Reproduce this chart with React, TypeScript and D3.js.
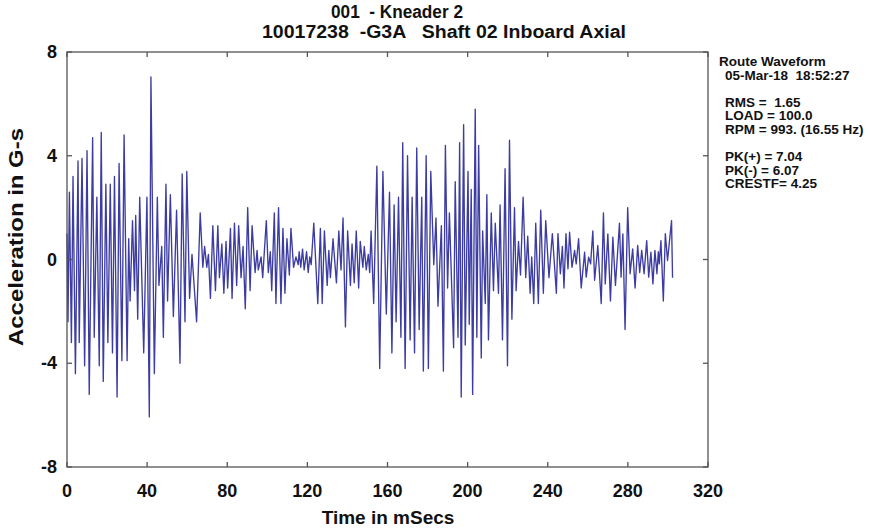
import React from "react";
import * as d3 from "d3";

const titleLines = ["001  - Kneader 2", "10017238  -G3A   Shaft 02 Inboard Axial"];
const xTicks = [0, 40, 80, 120, 160, 200, 240, 280, 320];
const yTicks = [8, 4, 0, -4, -8];
const xTitle = "Time in mSecs";
const yTitle = "Acceleration in G-s";
const infoLines = [
  { text: "Route Waveform", indent: false },
  { text: "05-Mar-18  18:52:27", indent: true },
  { text: "", indent: true },
  { text: "RMS =  1.65", indent: true },
  { text: "LOAD = 100.0", indent: true },
  { text: "RPM = 993. (16.55 Hz)", indent: true },
  { text: "", indent: true },
  { text: "PK(+) = 7.04", indent: true },
  { text: "PK(-) = 6.07", indent: true },
  { text: "CRESTF= 4.25", indent: true },
];

// [time in ms, acceleration in G-s]
const waveform: [number, number][] = [
  [0, 1.0], [0.5, -2.4], [1.2, 2.6], [2.2, -3.2], [3.0, 3.2], [4.2, -4.4], [5.5, 3.8], [6.1, -3.2],
  [7.5, 3.9], [8.8, -4.1], [10.0, 4.2], [11.1, -5.2], [12.8, 4.7], [13.6, -3.0], [14.9, 2.4], [16.1, -4.1],
  [17.1, 4.9], [18.1, -4.7], [19.4, 2.9], [20.4, -3.2], [21.6, 2.9], [22.7, -3.6], [23.7, 3.2], [25.0, -5.3],
  [26.0, 3.7], [27.4, -3.9], [28.5, 4.8], [30.0, -3.9], [30.8, 0.8], [31.5, -1.6], [32.7, 1.5], [33.7, -1.2],
  [34.3, 1.7], [35.3, -2.3], [36.3, 2.4], [38.3, -3.6], [39.9, 2.4], [41.1, -6.07], [41.9, 7.04], [43.6, -4.4],
  [45.1, 2.4], [45.9, -1.0], [47.3, 0.5], [48.1, -3.0], [49.4, 2.9], [50.2, -1.6], [51.6, 2.5], [53.1, -2.2],
  [54.7, 1.9], [56.4, -4.0], [57.5, 3.3], [58.9, -2.4], [59.8, 3.4],
  [61.2, -1.5], [62.4, 0.2], [64.7, -2.4], [66.5, 1.8], [67.8, -0.3], [68.7, 0.5], [69.8, -0.3], [70.6, 0.2],
  [71.6, -1.5], [72.8, 1.3], [74.1, -1.2], [75.3, 1.3], [76.1, -0.7], [77.3, 0.6], [78.3, -1.3], [79.4, 0.7],
  [80.2, -1.1], [81.6, 1.2], [82.4, -1.5], [83.6, 1.4], [84.7, -1.0], [85.7, 1.3], [86.9, -0.7], [87.9, 0.5],
  [89.0, -1.9], [90.2, 2.0], [91.4, -1.2], [92.4, 1.3], [93.9, -0.5], [94.9, 0.35], [95.5, -0.4], [96.9, 0.1],
  [97.7, -0.7], [99.5, 1.5], [100.5, -0.5], [101.5, 0.3], [102.2, -1.2], [103.5, 1.8], [104.3, -1.7], [105.6, 2.0],
  [106.8, -1.7], [107.8, 1.2], [108.8, -1.3], [109.8, 0.8], [111.0, -0.6], [111.8, 1.2], [113.1, -0.3], [114.3, 0.1],
  [115.4, -0.2], [115.9, 0.3], [116.7, -0.3], [117.6, 0.4], [118.4, -0.4], [119.6, 0.3],
  [120.4, -0.5], [121.2, 0.1], [121.9, -0.2], [123.2, 1.4], [125.2, -1.7], [126.5, 1.2], [127.4, -1.7], [128.5, 1.1],
  [129.9, -1.0], [130.7, 0.35], [131.5, -0.7], [132.8, 0.8], [134.5, -0.9], [135.7, 1.1], [136.8, -0.4], [137.8, 1.6],
  [139.0, -2.6], [140.1, 1.1], [141.5, -1.0], [142.3, 0.6], [143.4, -0.9], [144.4, 1.1], [145.6, -1.1], [146.4, 0.7],
  [147.7, -0.3], [148.4, 0.5], [149.4, -0.4], [150.4, 0.2], [151.1, -0.5], [151.8, 1.1], [153.1, -1.7], [154.7, 3.6],
  [156.1, -4.2], [157.7, 3.4], [159.4, -2.1], [161.0, 2.6], [162.2, -3.6], [163.3, 2.1], [164.3, -2.4], [165.5, 2.4],
  [166.7, -3.0], [167.6, 4.5], [168.8, -4.2], [170.0, 4.0], [171.3, -3.1], [172.3, 2.4], [173.5, -3.6], [174.6, 4.3],
  [175.8, -2.7], [177.1, 2.4], [177.9, -4.3], [179.3, 4.0], [180.4, -4.2], [181.6, 3.4],
  [183.1, -0.2], [184.2, 1.6], [185.2, -1.8], [186.9, 1.3], [187.9, -4.3], [188.9, 4.4], [190.0, -1.1], [190.9, 1.8],
  [193.0, -3.4], [193.8, 3.0], [195.2, -3.0], [196.0, 4.5], [196.8, -5.3], [198.0, 5.2], [198.8, -3.3], [200.2, 3.4],
  [200.8, -2.5], [201.8, 2.7], [202.5, -5.2], [203.8, 5.8], [204.6, -3.0], [205.5, 4.4], [206.8, -3.8], [207.5, 1.1],
  [208.8, -1.7], [209.6, 2.5], [210.4, -3.1], [211.8, 1.8], [212.9, -1.2], [213.8, 1.4], [215.4, -1.3], [216.2, 2.1],
  [217.4, -3.1], [218.7, 3.5], [219.9, -4.1], [220.9, 4.6], [222.1, -2.3], [223.4, 2.0], [224.2, -1.2], [225.4, 0.7],
  [226.4, -0.6], [227.7, 2.4], [229.0, -0.7], [230.0, 0.9], [231.2, -1.3], [232.0, 0.1], [233.0, -1.7], [234.0, 1.4],
  [235.3, -1.7], [236.5, 1.9], [237.8, -1.3], [239.0, 1.5], [240.6, -0.7], [242.3, 1.0],
  [244.3, -1.3], [245.1, 1.0], [246.3, -0.55], [247.3, 0.5], [248.1, -1.1], [249.1, 1.0], [250.1, -0.36], [250.9, 1.05],
  [252.1, -0.3], [253.4, 0.35], [254.2, -0.17], [255.4, 0.8], [256.7, -1.1], [258.4, 0.28], [259.2, -0.68], [260.4, 0.09],
  [261.4, -0.17], [262.5, 1.1], [263.4, -0.8], [265.0, 0.54], [266.7, -1.7], [267.8, 1.8], [268.7, -0.94], [270.0, 0.99],
  [271.3, -1.6], [272.5, 0.86], [273.8, -1.0], [275.8, 1.4], [276.6, -0.68], [277.5, 0.99], [278.6, -2.7], [279.9, 2.0],
  [281.1, -0.55], [282.4, 0.41], [283.6, -1.1], [284.9, 0.54], [285.9, -0.5], [286.9, 0.35], [288.1, -0.55], [289.4, 0.73],
  [290.4, -0.68], [291.5, 0.28], [292.5, -0.94], [293.5, 0.35], [294.5, -0.55], [295.2, 0.3], [295.7, -0.17], [296.5, 0.73],
  [297.7, -1.6], [298.7, 1.0], [299.8, -0.04], [301.8, 1.5], [302.3, -0.7],
];

const W = 882;
const H = 531;
const left = 67;
const right = 708;
const top = 52;
const bottom = 467;
const FONT = "'Liberation Sans', Arial, Helvetica, sans-serif";

export default function App() {
  const x = d3.scaleLinear().domain([0, 320]).range([left, right]);
  const y = d3.scaleLinear().domain([-8, 8]).range([bottom, top]);
  const line = d3
    .line<[number, number]>()
    .x((d) => x(d[0]))
    .y((d) => y(d[1]));
  const axisColor = "#555";
  const tick = 5;

  return (
    <svg
      width={W}
      height={H}
      style={{ position: "absolute", left: 0, top: 0, background: "#fff" }}
      fontFamily={FONT}
    >
      <rect x={0} y={0} width={W} height={H} fill="#fff" />
      {/* titles */}
      <text x={331} y={18} fontSize={18} fontWeight="bold" fill="#111" textLength={132} lengthAdjust="spacingAndGlyphs" style={{ whiteSpace: "pre" }}>
        {titleLines[0]}
      </text>
      <text x={262} y={38} fontSize={18} fontWeight="bold" fill="#111" textLength={364} lengthAdjust="spacingAndGlyphs" style={{ whiteSpace: "pre" }}>
        {titleLines[1]}
      </text>

      {/* waveform */}
      <path d={line(waveform) || ""} fill="none" stroke="#3c3ca2" strokeWidth={1.35} strokeLinejoin="round" />

      {/* frame */}
      <rect x={left} y={top} width={right - left} height={bottom - top} fill="none" stroke={axisColor} strokeWidth={1.3} />
      {xTicks.map((t) => (
        <g key={"xt" + t}>
          <line x1={x(t)} x2={x(t)} y1={bottom} y2={bottom - tick} stroke={axisColor} strokeWidth={1.3} />
          <line x1={x(t)} x2={x(t)} y1={top} y2={top + tick} stroke={axisColor} strokeWidth={1.3} />
          <text x={x(t)} y={497} textAnchor="middle" fontSize={18} fontWeight="bold" fill="#111">
            {t}
          </text>
        </g>
      ))}
      {yTicks.map((t) => (
        <g key={"yt" + t}>
          <line x1={left} x2={left + tick} y1={y(t)} y2={y(t)} stroke={axisColor} strokeWidth={1.3} />
          <line x1={right} x2={right - tick} y1={y(t)} y2={y(t)} stroke={axisColor} strokeWidth={1.3} />
          <text x={57} y={y(t) + 6} textAnchor="end" fontSize={18} fontWeight="bold" fill="#111">
            {t}
          </text>
        </g>
      ))}

      {/* axis titles */}
      <text x={388} y={524} textAnchor="middle" fontSize={19} fontWeight="bold" fill="#111">
        {xTitle}
      </text>
      <text
        transform={`translate(23, 237) rotate(-90)`}
        textAnchor="middle"
        fontSize={20}
        fontWeight="bold"
        fill="#111"
        textLength={218}
        lengthAdjust="spacingAndGlyphs"
      >
        {yTitle}
      </text>

      {/* info block */}
      {infoLines.map((l, i) =>
        l.text ? (
          <text
            key={"info" + i}
            x={l.indent ? 725 : 719}
            y={66 + i * 13.6}
            fontSize={13.5}
            fontWeight="bold"
            fill="#111"
            style={{ whiteSpace: "pre" }}
          >
            {l.text}
          </text>
        ) : null
      )}
    </svg>
  );
}
